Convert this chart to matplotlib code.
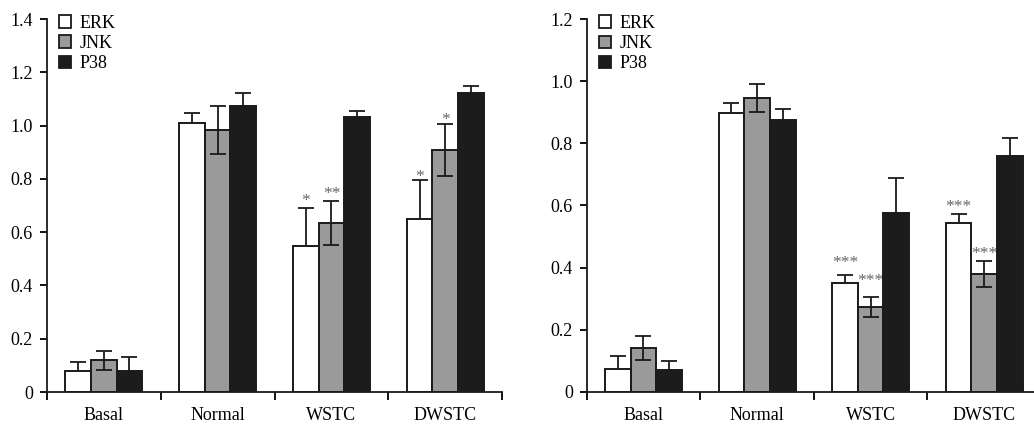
import numpy as np
import matplotlib
matplotlib.use('Agg')
import matplotlib.pyplot as plt
import matplotlib.transforms as mtransforms
from matplotlib.patches import Patch

plt.rcParams['font.family'] = ['Liberation Serif', 'DejaVu Serif']

# --- data ---
groups = ['Basal', 'Normal', 'WSTC', 'DWSTC']
series = ['ERK', 'JNK', 'P38']

left_erk = [0.079, 1.009, 0.547, 0.649]
left_jnk = [0.119, 0.984, 0.635, 0.908]
left_p38 = [0.079, 1.074, 1.034, 1.121]
left_erk_err = [0.034, 0.038, 0.144, 0.145]
left_jnk_err = [0.035, 0.089, 0.083, 0.098]
left_p38_err = [0.051, 0.048, 0.022, 0.027]
left_stars = [(2, 0, '*', 0.734), (2, 1, '**', 0.76),
              (3, 0, '*', 0.826), (3, 1, '*', 1.039)]

right_erk = [0.072, 0.896, 0.349, 0.542]
right_jnk = [0.140, 0.947, 0.272, 0.379]
right_p38 = [0.070, 0.875, 0.574, 0.758]
right_erk_err = [0.044, 0.034, 0.026, 0.031]
right_jnk_err = [0.038, 0.045, 0.033, 0.042]
right_p38_err = [0.030, 0.037, 0.113, 0.058]
right_stars = [(2, 0, '***', 0.43), (2, 1, '***', 0.372),
               (3, 0, '***', 0.612), (3, 1, '***', 0.46)]

colors = ['white', '#9a9a9a', '#1c1c1c']
bar_w = 0.226
offsets = [-bar_w, 0.0, bar_w]


def draw_panel(fig, ax, vals, errs, stars, ymax, ystep):
    x = np.arange(len(groups)) + 0.5
    for i, (v, e) in enumerate(zip(vals, errs)):
        pos = x + offsets[i]
        # ERK / P38 error bars sit behind the bar so only the upper half shows
        ez = 3 if i == 1 else 1
        ax.errorbar(pos, v, yerr=e, fmt='none', ecolor='#1a1a1a',
                    elinewidth=1.3, capsize=5.5, capthick=1.3, zorder=ez)
        ax.bar(pos, v, width=bar_w, color=colors[i], edgecolor='#1a1a1a',
               linewidth=1.4, zorder=2)
    # asterisks sit high in the glyph box, nudge them down a little
    star_tr = mtransforms.offset_copy(ax.transData, fig=fig, y=-3.5, units='points')
    for g, s, txt, y in stars:
        ax.text(x[g] + offsets[s], y, txt, transform=star_tr,
                ha='center', va='center', fontsize=12.5, color='#666666',
                zorder=4)

    ax.set_xlim(0, len(groups))
    ax.set_ylim(0, ymax)
    ax.set_yticks(np.arange(0, ymax + 1e-9, ystep))
    ax.set_yticklabels(['0'] + ['%.1f' % t for t in np.arange(ystep, ymax + 1e-9, ystep)])
    ax.set_xticks(np.arange(0, len(groups) + 1))
    ax.set_xticklabels([])
    ax.set_xticks(x, minor=True)
    ax.set_xticklabels(groups, minor=True)
    ax.tick_params(axis='x', which='major', direction='out', length=6, width=1.3)
    ax.tick_params(axis='x', which='minor', length=0, pad=11, labelsize=13)
    ax.tick_params(axis='y', direction='out', length=5, width=1.3, pad=5,
                   labelsize=13)
    for sp in ['top', 'right']:
        ax.spines[sp].set_visible(False)
    for sp in ['left', 'bottom']:
        ax.spines[sp].set_linewidth(1.3)
        ax.spines[sp].set_color('#1a1a1a')

    handles = [Patch(facecolor=c, edgecolor='#1a1a1a', linewidth=1.3, label=s)
               for c, s in zip(colors, series)]
    ax.legend(handles=handles, loc='upper left', bbox_to_anchor=(0.0, 1.045),
              frameon=False, fontsize=13, handlelength=0.65, handleheight=0.7,
              handletextpad=0.45, labelspacing=0.18, borderaxespad=0.3)


fig = plt.figure(figsize=(10.34, 4.28), dpi=100)
ax1 = fig.add_axes([0.0452, 0.0841, 0.4406, 0.8715])
ax2 = fig.add_axes([0.5674, 0.0848, 0.4394, 0.8706])

draw_panel(fig, ax1, [left_erk, left_jnk, left_p38],
           [left_erk_err, left_jnk_err, left_p38_err], left_stars, 1.4, 0.2)
draw_panel(fig, ax2, [right_erk, right_jnk, right_p38],
           [right_erk_err, right_jnk_err, right_p38_err], right_stars, 1.2, 0.2)

fig.savefig('out.png', dpi=100)
